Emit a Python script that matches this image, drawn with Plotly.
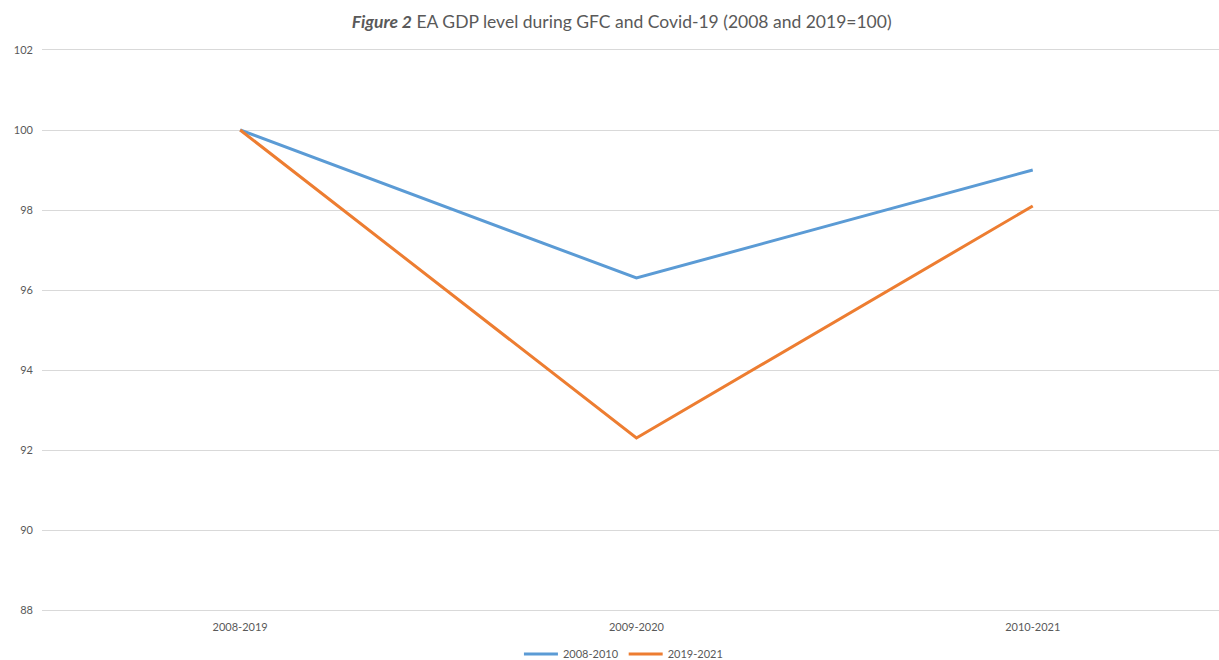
import plotly.graph_objects as go

categories = ["2008-2019", "2009-2020", "2010-2021"]
gfc_2008_2010 = [100.0, 96.3, 99.0]
covid_2019_2021 = [100.0, 92.3, 98.1]
y_ticks = [88, 90, 92, 94, 96, 98, 100, 102]

FONT = "Lato"
GREY = "#595959"

fig = go.Figure()
fig.add_trace(go.Scatter(x=categories, y=gfc_2008_2010, mode="lines", name="2008-2010",
                         line=dict(color="#5B9BD5", width=3)))
fig.add_trace(go.Scatter(x=categories, y=covid_2019_2021, mode="lines", name="2019-2021",
                         line=dict(color="#ED7D31", width=3)))

fig.update_layout(
    width=1219, height=660,
    margin=dict(l=42, r=0, t=50, b=50, autoexpand=False),
    paper_bgcolor="white", plot_bgcolor="white",
    font=dict(family=FONT, color=GREY, size=11),
    title=dict(text="<b><i>Figure 2</i></b> EA GDP level during GFC and Covid-19 (2008 and 2019=100)",
               x=0.51, xanchor="center", y=1 - 22 / 660, yanchor="middle",
               font=dict(family=FONT, size=17.5, color=GREY)),
    showlegend=True,
    legend=dict(orientation="h", x=0.494, xanchor="center", y=-0.0786, yanchor="middle",
                font=dict(size=11, color=GREY), itemwidth=34, tracegroupgap=0),
    hovermode=False,
)
fig.update_xaxes(type="category", range=[-0.5, 2.47], showgrid=False,
                 showline=True, mirror=True, linecolor="#D9D9D9", linewidth=1,
                 ticks="", tickfont=dict(size=11, color=GREY), zeroline=False,
                 ticklabelstandoff=7)
fig.update_yaxes(range=[88, 102], tickvals=y_ticks, showgrid=True, gridcolor="#D9D9D9",
                 gridwidth=1, zeroline=False, showline=False, ticks="",
                 tickfont=dict(size=11, color=GREY), ticklabelstandoff=8)

fig.write_html("out.html", config={"displayModeBar": False, "staticPlot": True},
               post_script="document.body.style.margin='0';document.body.style.padding='0';document.body.style.overflow='hidden';")
